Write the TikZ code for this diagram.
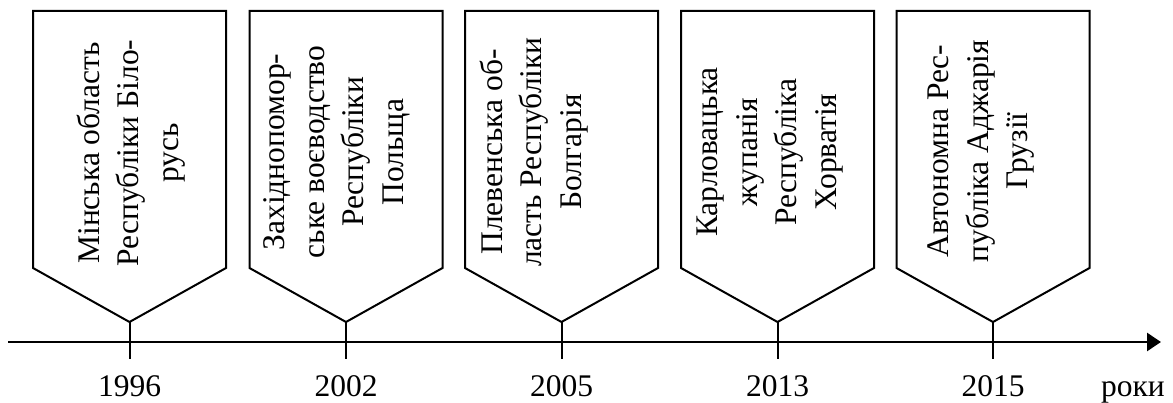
\documentclass[tikz,border=0pt]{standalone}
\usepackage{fontspec}
\setmainfont{Liberation Serif}
\usetikzlibrary{arrows.meta}
\begin{document}
\begin{tikzpicture}[x=1pt,y=-1pt,
  boxline/.style={line width=2pt,line join=miter},
  axisline/.style={line width=2.6pt,-{Triangle[length=14pt,width=18pt]}},
  tickline/.style={line width=2pt},
  boxtext/.style={rotate=90,align=center,inner sep=0pt,font=\fontsize{31.5}{39.5}\selectfont},
  yeartext/.style={inner sep=0pt,anchor=base,font=\fontsize{31.5}{36}\selectfont}]
\useasboundingbox (0,0) rectangle (1173,403);
\coordinate (axs) at (8,342);
\coordinate (axe) at (1161,342);
\draw[axisline] (axs) -- (axe);
\foreach \i/\c/\yr in {1/129.5/1996, 2/346/2002, 3/561.5/2005, 4/777.5/2013, 5/993/2015}{
  \coordinate (tip\i) at (\c,322);
  \draw[boxline] (tip\i) -- ++(-96.5,-54) -- ++(0,-257) -- ++(193,0) -- ++(0,257) -- cycle;
  \node[yeartext] (yr\i) at (\c,396) {\yr};
  \coordinate (tk\i) at (\c,359);
  \draw[tickline] (tip\i) -- (tk\i);
}
\node[boxtext] (t1) at (131,153) {Мінська область\\Республіки Біло-\\русь};
\node[boxtext] (t2) at (337,152) {Західнопомор-\\ське воєводство\\Республіки\\Польща};
\node[boxtext] (t3) at (534,152) {Плевенська об-\\ласть Республіки\\Болгарія};
\node[boxtext] (t4) at (770,152) {Карловацька\\жупанія\\Республіка\\Хорватія};
\node[boxtext] (t5) at (981,151) {Автономна Рес-\\публіка Аджарія\\Грузії};
\node[yeartext] (roky) at (1133,396) {роки};
\end{tikzpicture}
\end{document}
